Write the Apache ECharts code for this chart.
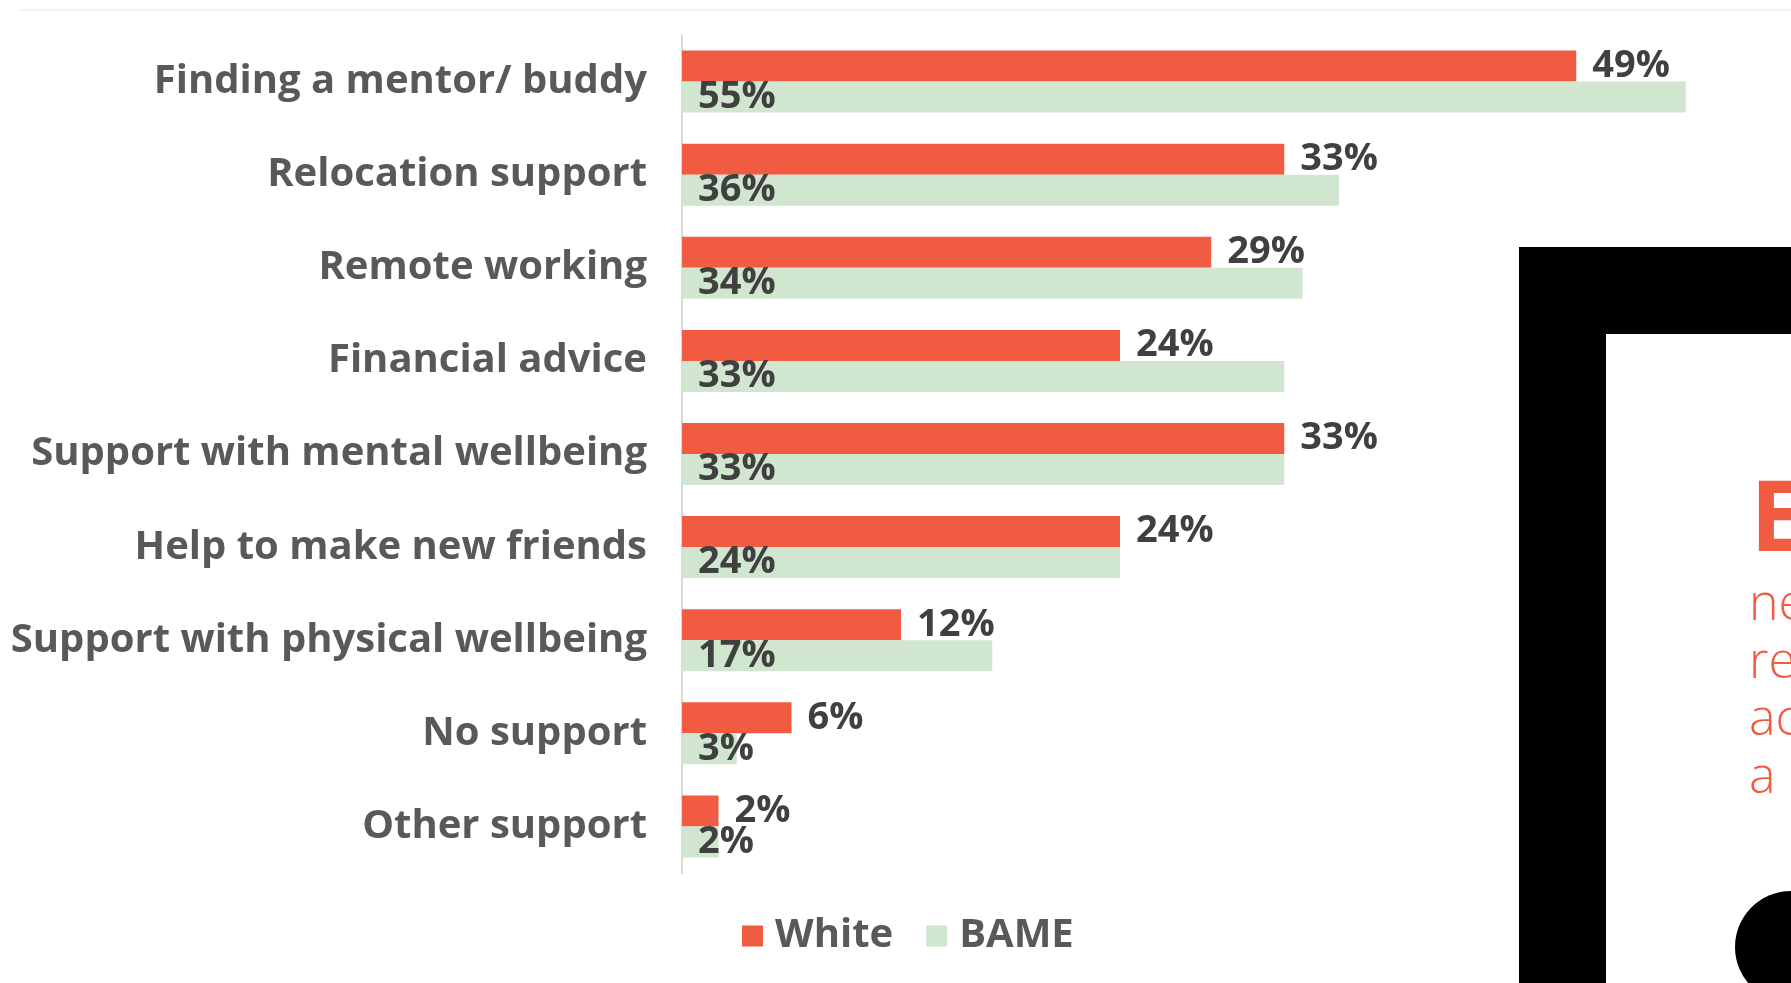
<!DOCTYPE html>
<html>
<head>
<meta charset="utf-8">
<title>Support wanted by group</title>
<script src="https://cdn.jsdelivr.net/npm/echarts@6/dist/echarts.min.js"></script>
<style>
  html, body { margin: 0; padding: 0; background: #ffffff; }
  #chart { width: 1791px; height: 983px; }
</style>
</head>
<body>
<div id="chart"></div>
<script>
// Support options, listed top to bottom
const categories = [
  'Finding a mentor/ buddy',
  'Relocation support',
  'Remote working',
  'Financial advice',
  'Support with mental wellbeing',
  'Help to make new friends',
  'Support with physical wellbeing',
  'No support',
  'Other support'
];

// Share of respondents (%) choosing each option
const whiteValues = [49, 33, 29, 24, 33, 24, 12, 6, 2];
const bameValues  = [55, 36, 34, 33, 33, 24, 17, 3, 2];

const seriesNames = ['White', 'BAME'];

// Text shown inside the framed panel on the right
const panelHeading = 'E';
const panelLines = ['ne', 're', 'ac', 'a'];

const RED = '#F15B42';
const GREEN = '#D0E6CE';
const ORANGE_TEXT = '#F15B42';
const FONT = '"Open Sans", "Noto Sans", sans-serif';

const chart = echarts.init(document.getElementById('chart'), null, { renderer: 'canvas' });

const pct = p => p.value + '%';

const panelGraphics = [
  // faint rule across the top of the page
  { type: 'rect', shape: { x: 20, y: 9, width: 1771, height: 2 }, style: { fill: '#f3f3f3' }, silent: true },
  // thick black frame
  { type: 'rect', shape: { x: 1519, y: 247, width: 400, height: 800 }, style: { fill: '#000000' }, silent: true },
  { type: 'rect', shape: { x: 1606, y: 334, width: 400, height: 800 }, style: { fill: '#ffffff' }, silent: true },
  // heading letter
  {
    type: 'text', x: 1750, y: 473,
    style: { text: panelHeading, fill: ORANGE_TEXT, font: 'bold 99px ' + FONT, verticalAlign: 'top' },
    silent: true
  },
  // black dot near the bottom
  { type: 'circle', shape: { cx: 1791, cy: 947, r: 56 }, style: { fill: '#000000' }, silent: true }
];
panelLines.forEach((t, i) => {
  panelGraphics.push({
    type: 'text', x: 1749, y: 581 + i * 57.5,
    style: { text: t, fill: ORANGE_TEXT, font: '300 50px ' + FONT, verticalAlign: 'top' },
    silent: true
  });
});

const option = {
  backgroundColor: '#ffffff',
  animation: false,
  textStyle: { fontFamily: FONT },
  grid: { left: 682, top: 35, right: 14, height: 838, containLabel: false },
  xAxis: {
    type: 'value', min: 0, max: 60, show: false
  },
  yAxis: {
    type: 'category',
    inverse: true,
    data: categories,
    axisLine: { show: true, lineStyle: { color: '#d9d9d9', width: 2 } },
    axisTick: { show: false },
    splitLine: { show: false },
    axisLabel: {
      margin: 35,
      color: '#595959',
      fontFamily: FONT,
      fontWeight: 'bold',
      fontSize: 40
    }
  },
  legend: {
    data: seriesNames,
    left: 737,
    top: 911,
    itemWidth: 21,
    itemHeight: 21,
    itemGap: 33,
    icon: 'rect',
    textStyle: { color: '#595959', fontFamily: FONT, fontWeight: 'bold', fontSize: 40, padding: [0, 0, 0, 7] }
  },
  series: [
    {
      name: seriesNames[0],
      type: 'bar',
      data: whiteValues,
      barGap: '0%',
      barCategoryGap: '33.4%',
      itemStyle: { color: RED },
      label: {
        show: true, position: 'right', distance: 16, formatter: pct,
        color: '#404040', fontFamily: FONT, fontWeight: 'bold', fontSize: 38
      }
    },
    {
      name: seriesNames[1],
      type: 'bar',
      data: bameValues,
      barGap: '0%',
      barCategoryGap: '33.4%',
      itemStyle: { color: GREEN },
      label: {
        show: true, position: 'insideLeft', distance: 16, formatter: pct,
        color: '#404040', fontFamily: FONT, fontWeight: 'bold', fontSize: 38
      }
    }
  ],
  graphic: { elements: panelGraphics }
};

chart.setOption(option);
</script>
</body>
</html>
